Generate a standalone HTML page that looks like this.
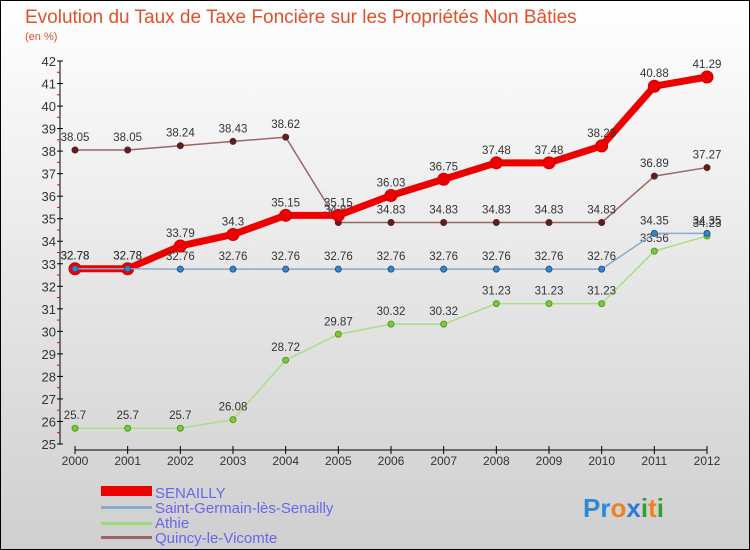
<!DOCTYPE html>
<html><head><meta charset="utf-8"><style>
body{margin:0;width:750px;height:550px;overflow:hidden;font-family:"Liberation Sans",sans-serif}
#wrap{position:absolute;left:0;top:0;width:748px;height:548px;border:1px solid #000;background:linear-gradient(#ffffff,#cfcfcf)}
</style></head><body>
<div id="wrap">
<svg id="chart" width="750" height="550" style="position:absolute;left:-1px;top:-1px">
<text x="25" y="23" font-size="19" fill="#e0502a">Evolution du Taux de Taxe Foncière sur les Propriétés Non Bâties</text>
<text x="25" y="40" font-size="11" fill="#e0502a">(en %)</text>
<g id="axes"></g><g id="series"></g>
<g>
<rect x="101" y="486" width="51" height="10" fill="#ee0000"/>
<text x="155" y="498" font-size="15" fill="#6666ee">SENAILLY</text>
<rect x="101" y="506" width="51" height="3" fill="#88aacc"/>
<text x="155" y="513" font-size="15" fill="#6666ee">Saint-Germain-lès-Senailly</text>
<rect x="101" y="522" width="51" height="3" fill="#99dd77"/>
<text x="155" y="528" font-size="15" fill="#6666ee">Athie</text>
<rect x="101" y="536" width="51" height="3" fill="#996666"/>
<text x="155" y="543" font-size="15" fill="#6666ee">Quincy-le-Vicomte</text>
</g>
<text x="583" y="517" font-size="26" font-weight="bold"><tspan fill="#2a8ad8">Pr</tspan><tspan fill="#f08020">o</tspan><tspan fill="#2a7ad8">x</tspan><tspan fill="#30a030">i</tspan><tspan fill="#f08020">t</tspan><tspan fill="#30a030">i</tspan></text>
</svg></div>
<script>
const years=[2000,2001,2002,2003,2004,2005,2006,2007,2008,2009,2010,2011,2012];
const yTicks=[25,26,27,28,29,30,31,32,33,34,35,36,37,38,39,40,41,42];
const senailly=[32.78,32.78,33.79,34.3,35.15,35.15,36.03,36.75,37.48,37.48,38.23,40.88,41.29];
const saintGermain=[32.78,32.78,32.76,32.76,32.76,32.76,32.76,32.76,32.76,32.76,32.76,34.35,34.35];
const athie=[25.7,25.7,25.7,26.08,28.72,29.87,30.32,30.32,31.23,31.23,31.23,33.56,34.23];
const quincy=[38.05,38.05,38.24,38.43,38.62,34.83,34.83,34.83,34.83,34.83,34.83,36.89,37.27];
const NS="http://www.w3.org/2000/svg";
const X=i=>75+i*(707-75)/12;
const Y=v=>444-(v-25)*(444-61)/17;
function mk(tag,at,parent){const e=document.createElementNS(NS,tag);for(const k in at)e.setAttribute(k,at[k]);parent.appendChild(e);return e;}
const ax=document.getElementById('axes'),sg=document.getElementById('series');
let a=mk('line',{x1:60,y1:Y(42),x2:60,y2:Y(25),stroke:'#000'},ax);


yTicks.forEach(v=>{
 mk('line',{x1:57,y1:Y(v),x2:63,y2:Y(v),stroke:'#000'},ax);
 if(v<42)mk('line',{x1:57,y1:Y(v+0.5),x2:60,y2:Y(v+0.5),stroke:'#ee0000'},ax);
 const t=mk('text',{x:56,y:Y(v)+5,'font-size':13,fill:'#333','text-anchor':'end'},ax);t.textContent=v;
 
 
});
a=mk('line',{x1:X(0),y1:450,x2:X(12),y2:450,stroke:'#000'},ax);


years.forEach((yr,i)=>{
 mk('line',{x1:X(i),y1:446,x2:X(i),y2:454,stroke:'#000'},ax);
 const t=mk('text',{x:X(i),y:465,'font-size':12,fill:'#333','text-anchor':'middle'},ax);t.textContent=yr;
 
 
});
function series(arr,name,color,lw,r,fill,stroke){
 const g=mk('g',{},sg);
 
 
 const p=mk('polyline',{points:arr.map((v,i)=>X(i)+','+Y(v)).join(' '),fill:'none',stroke:color,'stroke-width':lw,'stroke-linejoin':'round'},g);
 
 
 arr.forEach((v,i)=>{
  const c=mk('circle',{cx:X(i),cy:Y(v),r:r,fill:fill,stroke:stroke,'stroke-width':1},g);
  
  
  const t=mk('text',{x:X(i),y:Y(v)-9,'font-size':11.5,fill:'#333','text-anchor':'middle'},g);
  t.textContent=v.toFixed(2).replace(/0$/,'').replace(/\.$/,'');
  
  
 });
}
series(quincy,'quincy','#996666',1.5,3,'#661a1a','#552222');
series(athie,'athie','#aade88',1.5,3,'#77cc33','#559922');
series(senailly,'senailly','#ee0000',7,6,'#ee0000','#cc0000');
series(saintGermain,'saint-germain','#88aacc',1.5,3,'#3388cc','#225588');
</script>
</body></html>
